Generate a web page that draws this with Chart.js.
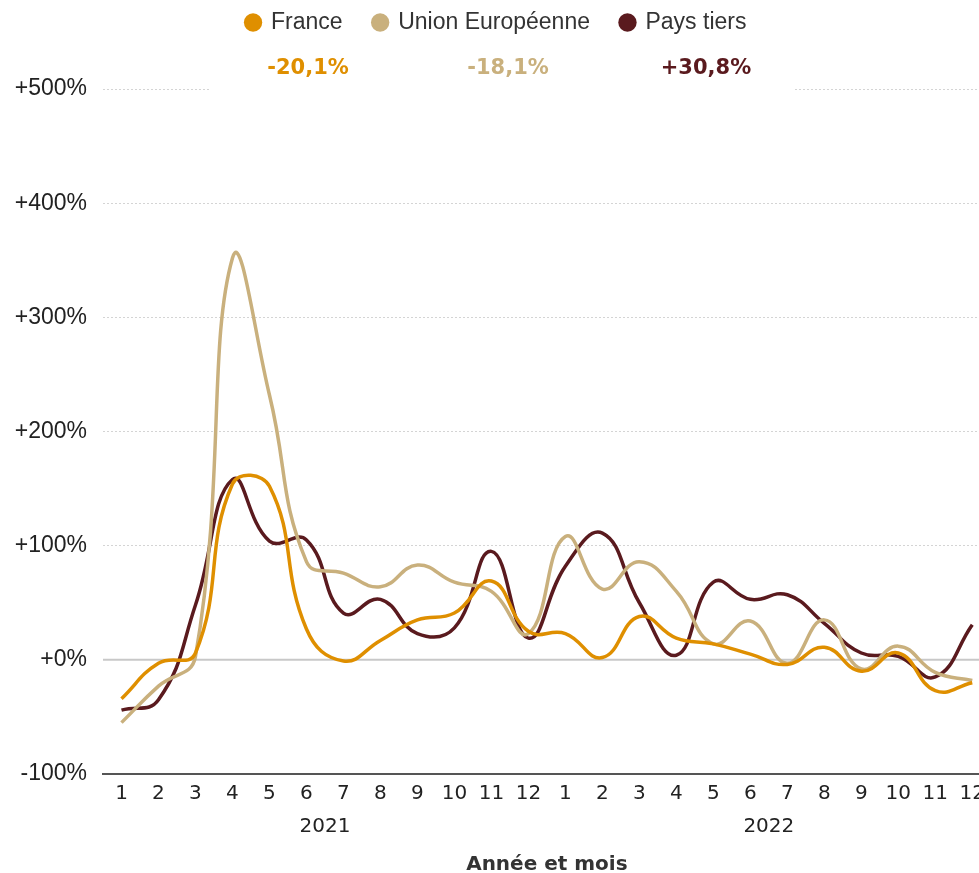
<!DOCTYPE html>
<html lang="fr">
<head>
<meta charset="utf-8">
<title>Évolution mensuelle par origine</title>
<script src="https://cdn.jsdelivr.net/npm/chart.js@4/dist/chart.umd.min.js"></script>
<style>
  html, body { margin: 0; padding: 0; background: #fff; overflow: hidden; }
  #wrap { width: 993px; height: 877px; }
</style>
</head>
<body>
<div id="wrap"><canvas id="chart"></canvas></div>
<script>
// Months 2021 then 2022
const months = ['1','2','3','4','5','6','7','8','9','10','11','12',
                '1','2','3','4','5','6','7','8','9','10','11','12'];
const years = ['2021', '2022'];

// Monthly change, in %
const france    = [-34, -3, 6, 154, 152, 27, -1, 17, 35, 41, 69, 25,
                   23, 2, 38, 19, 14, 5, -4, 11, -10, 6, -27, -20.1];
const ue        = [-55, -23, 3, 352, 232, 86, 76, 64, 83, 68, 60, 23,
                   108, 62, 86, 60, 14, 34, -3, 35, -8, 12, -11, -18.1];
const paysTiers = [-44, -35, 48, 158, 104, 105, 41, 53, 23, 28, 95, 19,
                   82, 111, 50, 4, 68, 53, 57, 32, 6, 3, -15, 30.8];

const seriesNames  = ['France', 'Union Européenne', 'Pays tiers'];
const seriesColors = ['#DF8F00', '#C9B07D', '#5A1A1E'];
const changeLabels = ['-20,1%', '-18,1%', '+30,8%'];

const yMin = -100, yMax = 500, yStep = 100;

function fmtPct(v) {
    return (v >= 0 ? '+' : '') + v + '%';
}

// extra room under the legend for the row of changes
const legendGap = {
    id: 'legendGap',
    beforeInit(chart) {
        const fit = chart.legend.fit;
        chart.legend.fit = function () {
            fit.bind(chart.legend)();
            this.height += 45;
        };
    }
};

// solid zero line + white band behind the change row
const zeroLine = {
    id: 'zeroLine',
    beforeDatasetsDraw(chart) {
        const { ctx, chartArea } = chart;
        const y = chart.scales.y.getPixelForValue(0);
        ctx.save();
        ctx.fillStyle = '#fff';
        ctx.fillRect(209, chartArea.top - 4, 585, 8);
        ctx.strokeStyle = '#c8c8c8';
        ctx.lineWidth = 2;
        ctx.beginPath();
        ctx.moveTo(chartArea.left, y);
        ctx.lineTo(chartArea.right, y);
        ctx.stroke();
        ctx.restore();
    }
};

const changeRow = {
    id: 'changeRow',
    afterDraw(chart) {
        const ctx = chart.ctx;
        const xs = [308, 508, 706];
        ctx.save();
        ctx.font = 'bold 21px "DejaVu Sans", Verdana, sans-serif';
        ctx.textAlign = 'center';
        ctx.textBaseline = 'middle';
        changeLabels.forEach((t, i) => {
            ctx.fillStyle = seriesColors[i];
            ctx.fillText(t, xs[i], 69);
        });
        ctx.restore();
    }
};

const ctx = document.getElementById('chart');
new Chart(ctx.getContext('2d'), {
    type: 'line',
    data: {
        labels: months,
        datasets: [france, ue, paysTiers].map((d, i) => ({
            label: seriesNames[i],
            data: d,
            borderColor: seriesColors[i],
            backgroundColor: seriesColors[i],
            borderWidth: 3.5,
            pointRadius: 0,
            tension: 0.45,
            fill: false
        }))
    },
    options: {
        responsive: true,
        maintainAspectRatio: false,
        animation: false,
        layout: { padding: { top: -20, left: 0, right: 0, bottom: 0 } },
        plugins: {
            legend: {
                position: 'top',
                labels: {
                    usePointStyle: true,
                    pointStyle: 'circle',
                    boxWidth: 13,
                    boxHeight: 13,
                    padding: 31,
                    color: '#333',
                    font: { family: '"Liberation Sans", Arial, sans-serif', size: 23 },
                    generateLabels: chart =>
                        Chart.defaults.plugins.legend.labels.generateLabels(chart)
                            .map(l => ({ ...l, lineWidth: 0 }))
                }
            },
            tooltip: { enabled: false }
        },
        scales: {
            x: {
                offset: true,
                grid: { display: false, drawTicks: false },
                border: { display: true, color: '#555', width: 2 },
                ticks: {
                    maxRotation: 0,
                    autoSkip: false,
                    padding: 8,
                    color: '#222',
                    font: { family: '"DejaVu Sans", Verdana, sans-serif', size: 20 }
                }
            },
            x2: {
                type: 'category',
                labels: years,
                position: 'bottom',
                offset: true,
                weight: 1,
                grid: { display: false, drawTicks: false },
                border: { display: false },
                ticks: {
                    padding: 1,
                    color: '#222',
                    font: { family: '"DejaVu Sans", Verdana, sans-serif', size: 20 }
                },
                title: {
                    display: true,
                    text: 'Année et mois',
                    color: '#333',
                    padding: { top: 13, bottom: 0 },
                    font: { family: '"DejaVu Sans", Verdana, sans-serif', size: 20, weight: 'bold' }
                }
            },
            y: {
                min: yMin,
                max: yMax,
                afterFit: s => { s.width = 103; },
                grid: { color: '#d4d4d4', lineWidth: 1, drawTicks: false },
                border: { display: false, dash: [2, 2] },
                ticks: {
                    stepSize: yStep,
                    padding: 16,
                    color: '#222',
                    font: { family: '"Liberation Sans", Arial, sans-serif', size: 23 },
                    callback: v => fmtPct(v)
                }
            }
        }
    },
    plugins: [legendGap, zeroLine, changeRow]
});
</script>
</body>
</html>
